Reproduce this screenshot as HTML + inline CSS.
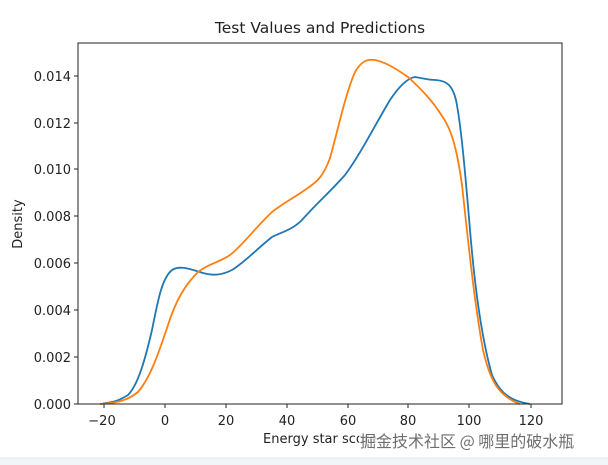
<!DOCTYPE html>
<html><head><meta charset="utf-8"><style>
body{margin:0;background:#fff;}
svg{display:block;font-family:"DejaVu Sans","Liberation Sans",sans-serif;}
</style></head><body>
<svg width="608" height="465" viewBox="0 0 608 465" xmlns="http://www.w3.org/2000/svg">
<rect width="608" height="465" fill="#fff"/>
<rect x="0" y="458" width="608" height="7" fill="#f2f5f7"/>
<line x1="0" y1="458" x2="608" y2="458" stroke="#e3e8ec"/>
<text x="320" y="33" font-size="15.5" text-anchor="middle" fill="#222">Test Values and Predictions</text>
<g stroke="#222" stroke-width="1">
<line x1="78" y1="404" x2="74" y2="404"/><line x1="78" y1="357" x2="74" y2="357"/><line x1="78" y1="310" x2="74" y2="310"/><line x1="78" y1="263" x2="74" y2="263"/><line x1="78" y1="216" x2="74" y2="216"/><line x1="78" y1="169" x2="74" y2="169"/><line x1="78" y1="123" x2="74" y2="123"/><line x1="78" y1="76" x2="74" y2="76"/>
<line x1="104" y1="404" x2="104" y2="408"/><line x1="165" y1="404" x2="165" y2="408"/><line x1="226" y1="404" x2="226" y2="408"/><line x1="287" y1="404" x2="287" y2="408"/><line x1="348" y1="404" x2="348" y2="408"/><line x1="408" y1="404" x2="408" y2="408"/><line x1="469" y1="404" x2="469" y2="408"/><line x1="531" y1="404" x2="531" y2="408"/>
</g>
<g font-size="13" fill="#222" text-anchor="end">
<text x="71" y="409">0.000</text><text x="71" y="362">0.002</text><text x="71" y="315">0.004</text><text x="71" y="268">0.006</text><text x="71" y="221">0.008</text><text x="71" y="174">0.010</text><text x="71" y="128">0.012</text><text x="71" y="81">0.014</text>
</g>
<g font-size="13" fill="#222" text-anchor="middle">
<text x="102" y="425">−20</text><text x="165" y="425">0</text><text x="226" y="425">20</text><text x="287" y="425">40</text><text x="348" y="425">60</text><text x="408" y="425">80</text><text x="469" y="425">100</text><text x="531" y="425">120</text>
</g>
<text x="320" y="443" font-size="13" fill="#222" text-anchor="middle">Energy star score</text>
<text x="22" y="224" font-size="13" fill="#222" text-anchor="middle" transform="rotate(-90 22 224)">Density</text>
<path fill="none" stroke="#1f77b4" stroke-width="1.8" d="M103,403.5 C115,402 120,400 128,395 C138,385 145,360 152,330 C158,300 162,278 172,270 C180,265 190,269 203,273 C214,276 222,275 232,270 C245,262 258,248 272,237 C282,232 292,230 302,220 C315,205 330,192 345,175 C360,155 375,125 390,100 C400,85 408,78 415,77 C422,78 428,80 436,80 C446,81 452,84 456,100 C461,125 465,170 470,230 C475,290 482,340 492,375 C500,393 510,401 530,404"/>
<path fill="none" stroke="#ff7f0e" stroke-width="1.8" d="M100,404 C118,403 128,400 138,392 C150,378 158,355 168,325 C176,300 185,285 198,272 C208,264 220,262 230,255 C242,246 255,228 272,212 C282,204 290,200 302,192 C315,183 322,180 330,158 C338,130 345,95 355,72 C362,60 368,59 375,60 C385,62 395,68 408,77 C420,88 432,100 442,116 C452,130 457,150 462,185 C468,240 474,300 483,350 C490,380 498,396 520,404"/>
<rect x="78" y="43" width="484" height="361" fill="none" stroke="#222" stroke-width="1"/>
<text x="360" y="447" font-size="16" fill="#fff" stroke="#fff" stroke-width="3" font-family="'Noto Sans CJK SC',sans-serif" opacity="0.8">掘金技术社区 @ 哪里的破水瓶</text>
<text x="360" y="447" font-size="16" fill="#555" font-family="'Noto Sans CJK SC',sans-serif" opacity="0.85">掘金技术社区 @ 哪里的破水瓶</text>
</svg>
</body></html>
